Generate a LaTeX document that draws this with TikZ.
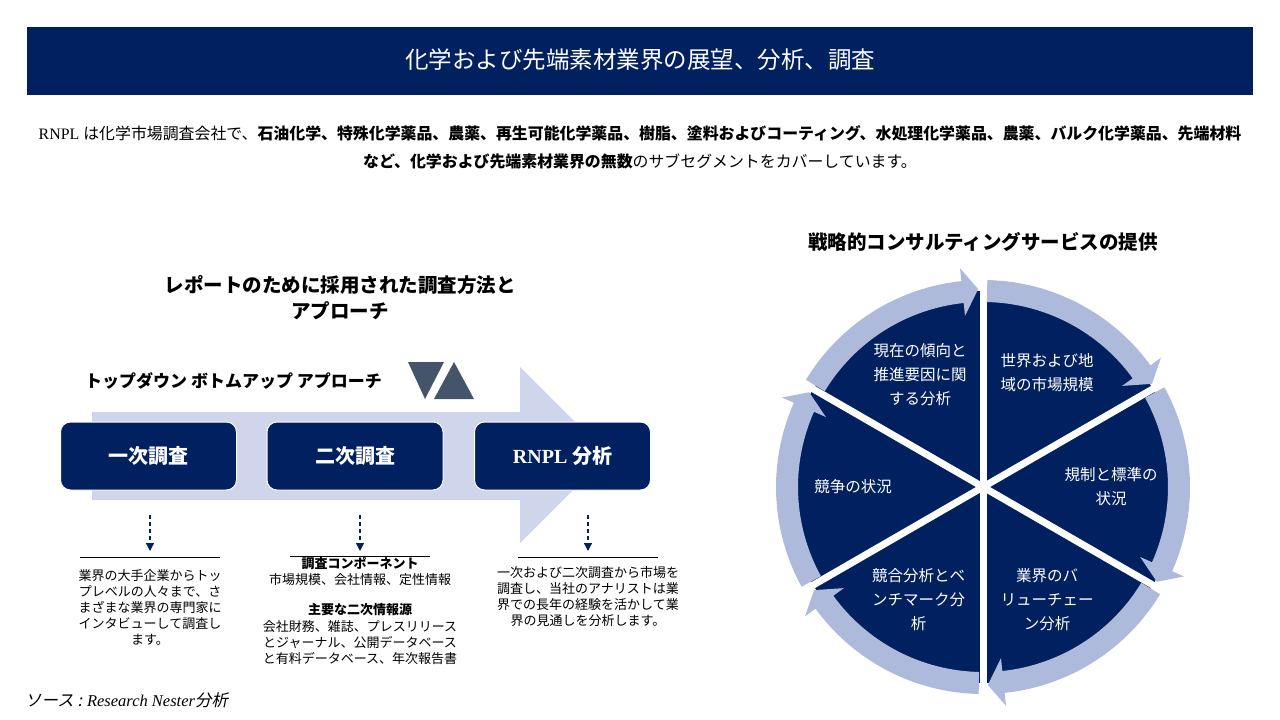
\documentclass[tikz,border=0pt]{standalone}
\usepackage{fontspec}
\setmainfont{Liberation Serif}
\newfontfamily\jp{Noto Sans CJK JP}
\newfontfamily\jpit{Noto Sans CJK JP}[FakeSlant=0.2]
\usetikzlibrary{arrows.meta}
\definecolor{navy}{HTML}{002060}
\definecolor{arrowlight}{HTML}{CFD5EA}
\definecolor{ringc}{HTML}{AEBADC}
\definecolor{slate}{HTML}{44546A}
\newcommand\setfs[2]{\fontsize{#1}{#2}\selectfont}
\begin{document}
\begin{tikzpicture}[x=1pt,y=-1pt,
  every node/.style={inner sep=0pt},
  stagebox/.style={fill=navy, draw=white, line width=1pt, rounded corners=10pt,
    minimum width=176pt, minimum height=68pt, text=white, font=\jp\bfseries\setfs{20}{24}},
  dasharr/.style={draw=navy, line width=1.3pt, dash pattern=on 4pt off 3pt,
    -{Triangle[length=8pt,width=8pt]}},
  rulel/.style={draw=black, line width=0.8pt},
  coltext/.style={align=center, anchor=north, font=\jp\setfs{13}{16.2}},
  sectortext/.style={align=center, text=white, font=\jp\setfs{15.5}{24}}]
\useasboundingbox (0,0) rectangle (1280,720);

% header
\node[fill=navy, minimum width=1226pt, minimum height=68pt, anchor=north west] (hdr) at (27,27) {};
\node[text=white, font=\jp\setfs{23.5}{28}] (title) at (640,60) {化学および先端素材業界の展望、分析、調査};

% intro paragraph
\node[align=center, font=\setfs{15.9}{28}] (para) at (640,147)
  {RNPL {\jp は化学市場調査会社で、\textbf{石油化学、特殊化学薬品、農薬、再生可能化学薬品、樹脂、塗料およびコーティング、水処理化学薬品、農薬、バルク化学薬品、先端材料}}\\
   {\jp\textbf{など、化学および先端素材業界の無数}のサブセグメントをカバーしています。}};

% left section title
\node[align=center, font=\jp\bfseries\setfs{19.5}{26}] (ltitle) at (340,298)
  {レポートのために採用された調査方法と\\アプローチ};
\node[anchor=west, font=\jp\bfseries\setfs{17}{20}] (tdbu) at (85,381)
  {トップダウン ボトムアップ アプローチ};
\fill[slate] (408,362) -- (444,362) -- (425,399) -- cycle;
\fill[slate] (434,399) -- (454,362) -- (474,399) -- cycle;

% big light arrow
\fill[arrowlight] (92,412) -- (520,412) -- (520,367) -- (608,455) -- (520,543) -- (520,500) -- (92,500) -- cycle;

% stage boxes
\node[stagebox] (b1) at (148.5,456) {一次調査};
\node[stagebox] (b2) at (355,456) {二次調査};
\node[stagebox] (b3) at (562.5,456) {{\rmfamily RNPL} 分析};

% dashed arrows
\coordinate (d1a) at (150,515); \coordinate (d1b) at (150,551);
\coordinate (d2a) at (360,515); \coordinate (d2b) at (360,551);
\coordinate (d3a) at (588,515); \coordinate (d3b) at (588,551);
\draw[dasharr] (d1a) -- (d1b);
\draw[dasharr] (d2a) -- (d2b);
\draw[dasharr] (d3a) -- (d3b);

% rules
\draw[rulel] (80,557) -- (220,557);
\draw[rulel] (290,556) -- (430,556);
\draw[rulel] (518,557) -- (658,557);

% column texts
\node[coltext] (c1) at (150,569)
  {業界の大手企業からトッ\\プレベルの人々まで、さ\\まざまな業界の専門家に\\インタビューして調査し\\ます。};
\node[coltext] (c2) at (360,557)
  {\textbf{調査コンポーネント}\\市場規模、会社情報、定性情報\\[14pt]\textbf{主要な二次情報源}\\会社財務、雑誌、プレスリリース\\とジャーナル、公開データベース\\と有料データベース、年次報告書};
\node[coltext] (c3) at (588,566)
  {一次および二次調査から市場を\\調査し、当社のアナリストは業\\界での長年の経験を活かして業\\界の見通しを分析します。};

% source
\node[anchor=west, font=\setfs{16.5}{20}] (src) at (25,700)
  {{\jpit ソース : }\textit{Research Nester}{\jpit 分析}};

% right title
\node[font=\jp\bfseries\setfs{19.5}{24}] (rtitle) at (983,242)
  {戦略的コンサルティングサービスの提供};

% cycle diagram
\begin{scope}[shift={(983,487)}, yscale=-1]
  \fill[navy] (0,0) circle[radius=196];
  \foreach \a in {90,30,-30}
    \draw[white, line width=7pt] (\a:202) -- (\a+180:202);
  \foreach \s [evaluate=\s as \ra using \s-1.2,
               evaluate=\s as \rb using \s-54,
               evaluate=\s as \rt using \s-58.6] in {150,90,30,-30,-90,-150}
    \fill[ringc] (\ra:207) arc[start angle=\ra, end angle=\rb, radius=207]
      -- (\rb:220) -- (\rt:198) -- (\rb:172) -- (\rb:185)
      arc[start angle=\rb, end angle=\ra, radius=185] -- cycle;
\end{scope}

% sector labels
\node[sectortext] (s1) at (920,375) {現在の傾向と\\推進要因に関\\する分析};
\node[sectortext] (s2) at (1047,373) {世界および地\\域の市場規模};
\node[sectortext] (s3) at (1111,487) {規制と標準の\\状況};
\node[sectortext] (s4) at (1047,600) {業界のバ\\リューチェー\\ン分析};
\node[sectortext] (s5) at (918.5,600) {競合分析とベ\\ンチマーク分\\析};
\node[sectortext] (s6) at (853,487) {競争の状況};
\end{tikzpicture}
\end{document}
